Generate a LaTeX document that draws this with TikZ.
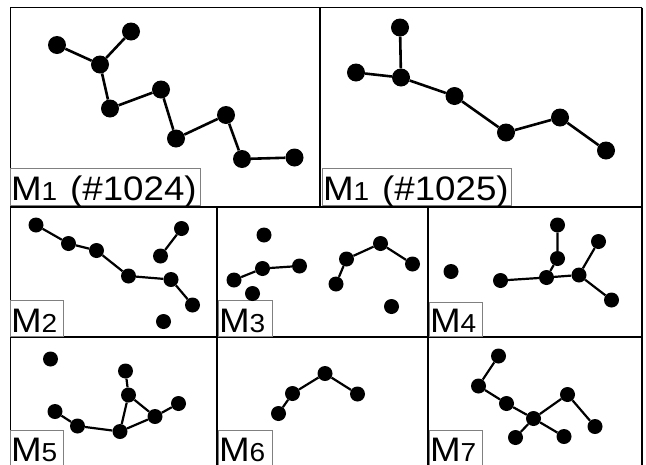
\documentclass[tikz,border=0pt]{standalone}
\usepackage{fontspec}
\usepackage{graphicx}
\setmainfont{Liberation Sans}
\newcommand{\msub}[1]{{\fontsize{26}{26}\selectfont #1}}
\newcommand{\lbl}[1]{\scalebox{1.08}[1]{\fontsize{34}{34}\selectfont #1}}
\tikzset{
  bigdot/.style={circle, fill=black, inner sep=0pt, minimum size=18pt},
  smldot/.style={circle, fill=black, inner sep=0pt, minimum size=15pt},
  bigedge/.style={line width=2.6pt},
  smledge/.style={line width=2.2pt},
  framel/.style={line width=2pt},
  labbox/.style={draw=gray, line width=0.8pt, fill=white},
  lab/.style={anchor=base west, inner sep=0pt, outer sep=0pt, text depth=0pt},
}
\begin{document}
\begin{tikzpicture}[x=1pt,y=-1pt]
\useasboundingbox (0,0) rectangle (646,464);
% frame
\draw[line width=1.2pt] (10.5,470) -- (10.5,7.5) -- (642,7.5);
\draw[framel] (642,7.5) -- (642,470);
\draw[framel] (10,207) -- (643,207);
\draw[framel] (10,337) -- (643,337);
\draw[framel] (320,7) -- (320,207);
\draw[framel] (217,207) -- (217,470);
\draw[framel] (428,207) -- (428,470);

% label boxes
\draw[labbox] (10.5,168) rectangle (200,205.5);
\draw[labbox] (322,168) rectangle (511,205.5);
\draw[labbox] (10.5,300) rectangle (63,336);
\draw[labbox] (218,300.5) rectangle (272,336);
\draw[labbox] (429,302) rectangle (482,336);
\draw[labbox] (10.5,430) rectangle (63,468);
\draw[labbox] (218,430) rectangle (272,468);
\draw[labbox] (429,430) rectangle (482,468);
% label texts
\node[lab] (L1a) at (11,200) {\lbl{M\msub{1}\hspace{12pt}(\#1024)}};
\node[lab] (L1b) at (323,200) {\lbl{M\msub{1}\hspace{12pt}(\#1025)}};
\node[lab] (L2) at (11,332) {\lbl{M\msub{2}}};
\node[lab] (L3) at (219,332) {\lbl{M\msub{3}}};
\node[lab] (L4) at (430,332) {\lbl{M\msub{4}}};
\node[lab] (L5) at (11,461) {\lbl{M\msub{5}}};
\node[lab] (L6) at (219,461) {\lbl{M\msub{6}}};
\node[lab] (L7) at (430,461) {\lbl{M\msub{7}}};

% M1 #1024
\node[bigdot] (A1) at (57,45) {};
\node[bigdot] (A2) at (131,31.5) {};
\node[bigdot] (A3) at (100,64.5) {};
\node[bigdot] (A4) at (110,108.5) {};
\node[bigdot] (A5) at (161,89.5) {};
\node[bigdot] (A6) at (176,138.5) {};
\node[bigdot] (A7) at (226,115) {};
\node[bigdot] (A8) at (242,159) {};
\node[bigdot] (A9) at (294.5,157.5) {};
\draw[bigedge] (A1) -- (A3) -- (A4) -- (A5) -- (A6) -- (A7) -- (A8) -- (A9);
\draw[bigedge] (A2) -- (A3);

% M1 #1025
\node[bigdot] (B1) at (400,27.5) {};
\node[bigdot] (B2) at (356,72.5) {};
\node[bigdot] (B3) at (401,77.5) {};
\node[bigdot] (B4) at (454.5,96) {};
\node[bigdot] (B5) at (506,132.5) {};
\node[bigdot] (B6) at (560,117.5) {};
\node[bigdot] (B7) at (606,150.5) {};
\draw[bigedge] (B2) -- (B3) -- (B4) -- (B5) -- (B6) -- (B7);
\draw[bigedge] (B1) -- (B3);

% M2
\node[smldot] (C1) at (36,225) {};
\node[smldot] (C2) at (68.5,243.5) {};
\node[smldot] (C3) at (96.5,250.5) {};
\node[smldot] (C4) at (128.5,276) {};
\node[smldot] (C5) at (171,279.5) {};
\node[smldot] (C6) at (192.5,305) {};
\node[smldot] (C7) at (181.5,228.5) {};
\node[smldot] (C8) at (160.5,256) {};
\node[smldot] (C9) at (163.5,321.5) {};
\draw[smledge] (C1) -- (C2) -- (C3) -- (C4) -- (C5) -- (C6);
\draw[smledge] (C7) -- (C8);

% M3
\node[smldot] (D1) at (264,235) {};
\node[smldot] (D2) at (234,280) {};
\node[smldot] (D3) at (262.5,268.5) {};
\node[smldot] (D4) at (299.5,266) {};
\node[smldot] (D5) at (252.5,293.5) {};
\node[smldot] (D6) at (336,284) {};
\node[smldot] (D7) at (346.5,259) {};
\node[smldot] (D8) at (380.5,243.5) {};
\node[smldot] (D9) at (412.5,264) {};
\node[smldot] (D10) at (391.5,306.5) {};
\draw[smledge] (D2) -- (D3) -- (D4);
\draw[smledge] (D6) -- (D7) -- (D8) -- (D9);

% M4
\node[smldot] (E1) at (451,271.5) {};
\node[smldot] (E2) at (500.5,280.5) {};
\node[smldot] (E3) at (546.5,277.5) {};
\node[smldot] (E4) at (579,275) {};
\node[smldot] (E5) at (557.5,258.5) {};
\node[smldot] (E6) at (557.5,225) {};
\node[smldot] (E7) at (598.5,241.5) {};
\node[smldot] (E8) at (611.5,300) {};
\draw[smledge] (E2) -- (E3) -- (E4) -- (E7);
\draw[smledge] (E3) -- (E5) -- (E6);
\draw[smledge] (E4) -- (E8);

% M5
\node[smldot] (F1) at (50.5,359) {};
\node[smldot] (F2) at (55,411.5) {};
\node[smldot] (F3) at (77.5,426) {};
\node[smldot] (F4) at (120,431.5) {};
\node[smldot] (F5) at (128.5,395) {};
\node[smldot] (F6) at (125.5,371) {};
\node[smldot] (F7) at (155,416.5) {};
\node[smldot] (F8) at (178.5,403.5) {};
\draw[smledge] (F2) -- (F3) -- (F4) -- (F5) -- (F6);
\draw[smledge] (F5) -- (F7) -- (F4);
\draw[smledge] (F7) -- (F8);

% M6
\node[smldot] (G1) at (278.5,413.5) {};
\node[smldot] (G2) at (292.5,393.5) {};
\node[smldot] (G3) at (325,373.5) {};
\node[smldot] (G4) at (357.5,394) {};
\draw[smledge] (G1) -- (G2) -- (G3) -- (G4);

% M7
\node[smldot] (H1) at (498.5,356) {};
\node[smldot] (H2) at (478.5,386) {};
\node[smldot] (H3) at (506.5,403.5) {};
\node[smldot] (H4) at (533.5,418.5) {};
\node[smldot] (H5) at (567.5,394.5) {};
\node[smldot] (H6) at (595,426.5) {};
\node[smldot] (H7) at (515.5,437.5) {};
\node[smldot] (H8) at (564,436.5) {};
\draw[smledge] (H1) -- (H2) -- (H3) -- (H4) -- (H5) -- (H6);
\draw[smledge] (H4) -- (H7);
\draw[smledge] (H4) -- (H8);
\end{tikzpicture}
\end{document}
